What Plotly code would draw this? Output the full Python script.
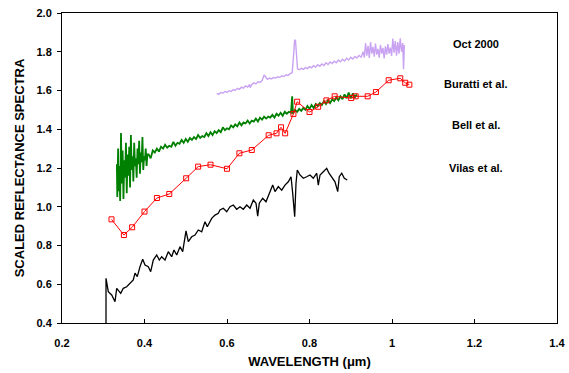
import plotly.graph_objects as go

# ---------------- data ----------------
# Vilas et al. (black)
vilas_wl = [0.3067, 0.3067, 0.3122, 0.3205, 0.3285, 0.3326, 0.3423, 0.3486, 0.3568, 0.3648,
            0.3728, 0.3770, 0.3825, 0.3891, 0.3956, 0.4012, 0.4092, 0.4150, 0.4213, 0.4296,
            0.4359, 0.4417, 0.4497, 0.4577, 0.4659, 0.4715, 0.4781, 0.4861, 0.4926, 0.5006,
            0.5062, 0.5144, 0.5224, 0.5304, 0.5387, 0.5467, 0.5522, 0.5629, 0.5709, 0.5789,
            0.5830, 0.5910, 0.5993, 0.6073, 0.6153, 0.6235, 0.6315, 0.6395, 0.6478, 0.6558,
            0.6638, 0.6703, 0.6744, 0.6783, 0.6865, 0.6945, 0.7042, 0.7108, 0.7164, 0.7244,
            0.7326, 0.7406, 0.7486, 0.7552, 0.7593, 0.7641, 0.7673, 0.7704, 0.7770, 0.7850,
            0.7932, 0.8012, 0.8092, 0.8175, 0.8213, 0.8255, 0.8335, 0.8417, 0.8473, 0.8538,
            0.8618, 0.8684, 0.8722, 0.8781, 0.8844, 0.8916]
vilas_val = [0.40, 0.631, 0.562, 0.545, 0.510, 0.579, 0.553, 0.579, 0.587, 0.605,
             0.622, 0.657, 0.639, 0.691, 0.729, 0.699, 0.691, 0.665, 0.725, 0.751,
             0.725, 0.742, 0.725, 0.768, 0.742, 0.777, 0.751, 0.794, 0.768, 0.876,
             0.820, 0.845, 0.854, 0.880, 0.871, 0.923, 0.897, 0.940, 0.957, 0.966,
             0.983, 0.992, 0.974, 1.000, 1.009, 0.987, 1.000, 0.987, 1.009, 0.992,
             1.035, 1.018, 0.952, 1.018, 1.044, 1.026, 1.078, 1.112, 1.078, 1.104,
             1.086, 1.112, 1.129, 1.155, 1.069, 0.949, 1.121, 1.190, 1.164, 1.147,
             1.155, 1.164, 1.147, 1.173, 1.112, 1.164, 1.181, 1.198, 1.173, 1.155,
             1.129, 1.078, 1.155, 1.173, 1.147, 1.138]

# Bell et al. (red squares)
bell_wl = [0.320, 0.350, 0.370, 0.400, 0.430, 0.460, 0.501, 0.530, 0.560, 0.600,
           0.630, 0.660, 0.701, 0.720, 0.731, 0.741, 0.761, 0.770, 0.800, 0.821,
           0.841, 0.861, 0.901, 0.912, 0.941, 0.961, 0.992, 1.020, 1.032, 1.042]
bell_val = [0.935, 0.854, 0.894, 0.975, 1.045, 1.066, 1.147, 1.207, 1.217, 1.196,
            1.276, 1.293, 1.369, 1.379, 1.410, 1.379, 1.479, 1.542, 1.489, 1.516,
            1.549, 1.570, 1.561, 1.570, 1.570, 1.592, 1.653, 1.663, 1.640, 1.630]

# Buratti et al. (green)
buratti_wl = [0.333, 0.334, 0.336, 0.337, 0.339, 0.341, 0.343, 0.345, 0.347, 0.349,
              0.351, 0.353, 0.355, 0.357, 0.359, 0.361, 0.363, 0.365, 0.367, 0.369,
              0.371, 0.373, 0.375, 0.377, 0.379, 0.381, 0.383, 0.385, 0.387, 0.389,
              0.391, 0.393, 0.395, 0.397, 0.399, 0.401, 0.403, 0.405, 0.407,
              0.410, 0.415, 0.420, 0.425, 0.430, 0.435, 0.440, 0.445, 0.450, 0.455,
              0.460, 0.465, 0.470, 0.475, 0.480, 0.485, 0.490, 0.495, 0.500, 0.505,
              0.510, 0.515, 0.520, 0.525, 0.530, 0.535, 0.540, 0.545, 0.550, 0.555,
              0.560, 0.565, 0.570, 0.575, 0.580, 0.585, 0.590, 0.595, 0.600, 0.605,
              0.610, 0.615, 0.620, 0.625, 0.630, 0.635, 0.640, 0.645, 0.650, 0.655,
              0.660, 0.665, 0.670, 0.675, 0.680, 0.685, 0.690, 0.695, 0.700, 0.705,
              0.710, 0.715, 0.720, 0.725, 0.730, 0.735, 0.740, 0.745, 0.750, 0.755,
              0.758, 0.760, 0.765, 0.770, 0.775, 0.780, 0.785, 0.790, 0.795, 0.800,
              0.805, 0.810, 0.815, 0.820, 0.825, 0.830, 0.835, 0.840, 0.845, 0.850,
              0.855, 0.860, 0.865, 0.870, 0.875, 0.880, 0.885, 0.890, 0.895, 0.900,
              0.905, 0.910, 0.915]
buratti_val = [1.22, 1.05, 1.30, 1.08, 1.21, 1.03, 1.38, 1.12, 1.29, 1.04,
               1.24, 1.15, 1.33, 1.07, 1.27, 1.16, 1.31, 1.10, 1.37, 1.19,
               1.26, 1.13, 1.33, 1.21, 1.25, 1.15, 1.30, 1.22, 1.34, 1.17,
               1.28, 1.23, 1.36, 1.19, 1.26, 1.24, 1.30, 1.21, 1.27,
               1.27, 1.25, 1.29, 1.28, 1.30, 1.285, 1.31, 1.30, 1.32, 1.305,
               1.315, 1.31, 1.335, 1.315, 1.33, 1.325, 1.345, 1.33, 1.35, 1.335,
               1.355, 1.345, 1.36, 1.35, 1.37, 1.355, 1.365, 1.36, 1.38, 1.365,
               1.385, 1.37, 1.39, 1.38, 1.395, 1.385, 1.41, 1.395, 1.405, 1.40,
               1.42, 1.41, 1.425, 1.415, 1.435, 1.42, 1.435, 1.43, 1.445, 1.43,
               1.445, 1.44, 1.455, 1.44, 1.46, 1.45, 1.465, 1.455, 1.465, 1.46,
               1.475, 1.46, 1.48, 1.47, 1.485, 1.47, 1.49, 1.48, 1.49, 1.485,
               1.57, 1.48, 1.50, 1.49, 1.505, 1.495, 1.51, 1.50, 1.52, 1.505,
               1.525, 1.51, 1.53, 1.52, 1.535, 1.525, 1.545, 1.53, 1.55, 1.535,
               1.555, 1.545, 1.565, 1.55, 1.57, 1.555, 1.58, 1.56, 1.59, 1.56,
               1.585, 1.565, 1.58]

# Oct 2000 (purple)
oct_wl = [0.575, 0.580, 0.585, 0.590, 0.595, 0.600, 0.605, 0.610, 0.615, 0.620,
          0.625, 0.630, 0.635, 0.640, 0.645, 0.650, 0.655, 0.656, 0.660, 0.665,
          0.670, 0.675, 0.680, 0.685, 0.690, 0.694, 0.698, 0.703, 0.708, 0.713,
          0.718, 0.723, 0.728, 0.733, 0.738, 0.743, 0.748, 0.753, 0.758, 0.762,
          0.764, 0.766, 0.768, 0.771, 0.775, 0.780, 0.785, 0.790, 0.795, 0.800,
          0.805, 0.810, 0.815, 0.820, 0.825, 0.830, 0.835, 0.840, 0.845, 0.850,
          0.855, 0.860, 0.865, 0.870, 0.875, 0.880, 0.885, 0.890, 0.895, 0.900,
          0.905, 0.910, 0.915, 0.920, 0.925, 0.930, 0.933, 0.936, 0.939, 0.942,
          0.945, 0.948, 0.951, 0.954, 0.957, 0.960, 0.963, 0.966, 0.969, 0.972,
          0.975, 0.978, 0.981, 0.984, 0.987, 0.990, 0.993, 0.996, 0.999, 1.002,
          1.005, 1.008, 1.011, 1.014, 1.017, 1.020, 1.023, 1.026, 1.028, 1.030]
oct_val = [1.585, 1.580, 1.590, 1.586, 1.595, 1.590, 1.599, 1.595, 1.605, 1.600,
           1.611, 1.606, 1.617, 1.612, 1.624, 1.618, 1.631, 1.615, 1.630, 1.639,
           1.634, 1.645, 1.642, 1.651, 1.680, 1.670, 1.658, 1.664, 1.660, 1.667,
           1.664, 1.671, 1.668, 1.676, 1.672, 1.681, 1.678, 1.687, 1.692, 1.800,
           1.862, 1.858, 1.780, 1.712, 1.707, 1.714, 1.709, 1.718, 1.713, 1.723,
           1.717, 1.728, 1.721, 1.733, 1.725, 1.737, 1.729, 1.743, 1.734, 1.747,
           1.739, 1.751, 1.743, 1.757, 1.748, 1.761, 1.752, 1.766, 1.757, 1.771,
           1.762, 1.776, 1.768, 1.781, 1.772, 1.800, 1.770, 1.845, 1.780, 1.830,
           1.768, 1.850, 1.790, 1.825, 1.775, 1.842, 1.785, 1.815, 1.770, 1.835,
           1.790, 1.820, 1.765, 1.828, 1.785, 1.840, 1.790, 1.822, 1.778, 1.868,
           1.795, 1.855, 1.780, 1.850, 1.790, 1.870, 1.800, 1.845, 1.710, 1.835]

series_labels = ["Oct 2000", "Buratti et al.", "Bell et al.", "Vilas et al."]
label_y = [1.84, 1.634, 1.422, 1.20]
label_x = 1.204

x_ticks = [0.2, 0.4, 0.6, 0.8, 1.0, 1.2, 1.4]
x_tick_text = ["0.2", "0.4", "0.6", "0.8", "1", "1.2", "1.4"]
y_ticks = [0.4, 0.6, 0.8, 1.0, 1.2, 1.4, 1.6, 1.8, 2.0]

FONT = "Liberation Sans, Arial"

# ---------------- figure ----------------
fig = go.Figure()
fig.add_trace(go.Scatter(x=oct_wl, y=oct_val, mode="lines",
                         line=dict(color="#c9a3f2", width=1.4), name="Oct 2000"))
fig.add_trace(go.Scatter(x=buratti_wl, y=buratti_val, mode="lines",
                         line=dict(color="#008000", width=1.8), name="Buratti et al."))
fig.add_trace(go.Scatter(x=vilas_wl, y=vilas_val, mode="lines",
                         line=dict(color="#000000", width=1.3), name="Vilas et al."))
fig.add_trace(go.Scatter(x=bell_wl, y=bell_val, mode="lines+markers",
                         line=dict(color="#ff0000", width=1),
                         marker=dict(symbol="square-open", size=5, color="#ff0000",
                                     line=dict(width=1, color="#ff0000")),
                         name="Bell et al."))

for t, yy in zip(series_labels, label_y):
    fig.add_annotation(x=label_x, y=yy, xref="x", yref="y", text="<b>%s</b>" % t,
                       showarrow=False, font=dict(family=FONT, size=11, color="#000"))

fig.update_layout(
    width=569, height=373,
    margin=dict(l=62, r=12, t=13, b=50),
    paper_bgcolor="white", plot_bgcolor="white",
    showlegend=False,
    font=dict(family=FONT, size=11, color="#000"),
)
fig.update_xaxes(range=[0.2, 1.4], tickvals=x_ticks, ticktext=x_tick_text,
                 ticks="inside", ticklen=4, tickcolor="#000",
                 showline=True, linecolor="#000", linewidth=1, mirror=True,
                 showgrid=False, zeroline=False, automargin=False,
                 tickfont=dict(size=11, family=FONT, weight="bold"),
                 ticklabelstandoff=10,
                 title=dict(text="<b>WAVELENGTH (μm)</b>", font=dict(size=13), standoff=8))
fig.update_yaxes(range=[0.4, 2.0], tickvals=y_ticks, tickformat=".1f",
                 ticks="outside", ticklen=4, tickcolor="#000",
                 showline=True, linecolor="#000", linewidth=1, mirror=True,
                 showgrid=False, zeroline=False, automargin=False,
                 tickfont=dict(size=11, family=FONT, weight="bold"),
                 ticklabelstandoff=3,
                 title=dict(text="<b>SCALED REFLECTANCE SPECTRA</b>", font=dict(size=13), standoff=8))

fig.write_html("out.html", config={"displayModeBar": False},
               post_script="document.body.style.margin='0';")
